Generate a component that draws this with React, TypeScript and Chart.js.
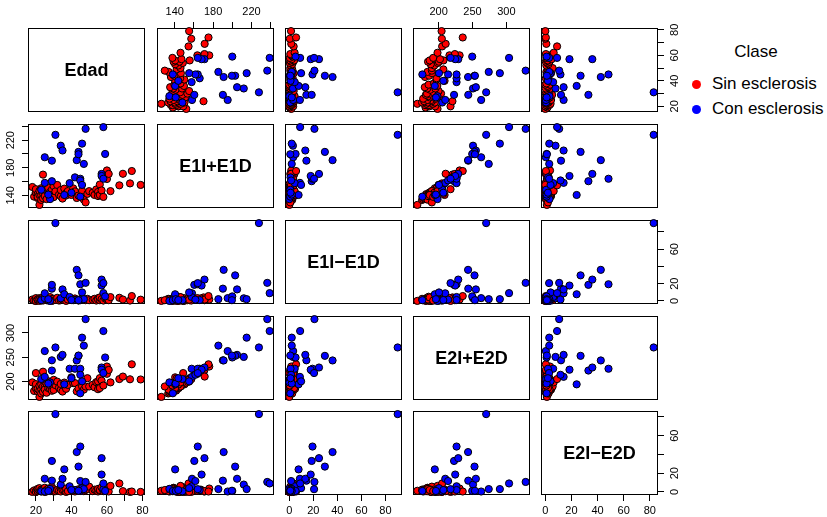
import React, { useEffect, useRef } from 'react';
import { Chart, registerables } from 'chart.js';

Chart.register(...registerables);

// ---- Data: Sin esclerosis (grupo 0) ----
const sinEdad = [18, 19, 20, 20, 20, 21, 21, 21, 22, 22, 22, 23, 23, 23, 24, 24, 24, 25, 25, 26, 26, 27, 27, 28, 28, 29, 29, 30, 30, 30, 31, 32, 33, 34, 34, 35, 36, 37, 37, 38, 40, 41, 42, 43, 44, 46, 47, 48, 49, 50, 52, 53, 54, 55, 55, 56, 56, 57, 58, 59, 60, 60, 61, 62, 67, 69, 73, 74, 79];
const sinE1Suma = [152.0, 138.0, 144.0, 143.6, 148.8, 141.6, 136.0, 137.6, 140.4, 126.0, 146.4, 140.0, 133.2, 150.2, 170.0, 135.6, 142.8, 145.2, 138.8, 147.2, 134.4, 143.2, 150.8, 139.2, 144.8, 136.8, 148.0, 141.2, 153.2, 137.2, 145.6, 155.0, 140.8, 138.4, 147.6, 135.2, 149.6, 143.0, 139.6, 146.0, 140.4, 150.0, 145.6, 136.0, 139.6, 146.4, 133.6, 129.6, 142.0, 146.0, 143.6, 140.4, 148.4, 144.8, 138.8, 155.6, 140.4, 147.0, 137.6, 167.2, 176.0, 163.6, 171.0, 146.0, 154.4, 171.2, 157.2, 175.2, 155.0];
const sinE1Dif = [1.6, 0.4, 0.0, 3.2, 0.0, 0.8, 1.6, 1.6, 3.2, 0.0, 2.0, 1.2, 2.4, 0.8, 4.0, 1.2, 0.4, 2.0, 3.6, 1.6, 0.8, 2.8, 0.4, 1.2, 4.4, 0.0, 2.0, 1.6, 0.8, 2.4, 1.2, 3.6, 0.4, 2.4, 0.8, 1.6, 3.2, 0.0, 4.8, 1.6, 2.0, 0.8, 2.8, 1.2, 0.4, 3.6, 1.6, 0.8, 2.4, 0.8, 1.2, 2.4, 0.4, 3.2, 1.6, 0.8, 4.0, 2.0, 0.4, 2.8, 1.6, 3.2, 0.8, 4.4, 3.6, 1.6, 0.4, 5.6, 1.4];
const sinE2Suma = [198.4, 180.8, 186.4, 194.8, 217.6, 181.6, 180.0, 185.6, 182.0, 168.6, 191.6, 184.0, 175.6, 194.4, 220.4, 178.8, 190.0, 189.2, 183.6, 196.0, 177.2, 186.8, 200.8, 184.8, 192.4, 181.2, 199.6, 188.0, 203.6, 182.8, 192.8, 200.0, 187.6, 183.2, 195.2, 179.6, 198.0, 188.8, 185.2, 193.2, 208.8, 196.8, 197.0, 180.0, 186.0, 190.4, 183.6, 190.0, 207.0, 190.0, 193.6, 188.4, 198.8, 200.4, 184.4, 207.2, 186.8, 202.0, 192.0, 222.0, 231.0, 216.0, 224.0, 198.4, 205.2, 210.4, 204.8, 235.6, 204.4];
const sinE2Dif = [0.0, 1.6, 0.8, 0.0, 0.0, 0.8, 0.8, 3.2, 3.2, 1.2, 4.0, 1.6, 2.4, 0.4, 0.8, 2.8, 1.2, 0.0, 4.4, 2.0, 0.4, 1.6, 3.6, 0.8, 2.0, 1.2, 5.2, 0.4, 1.6, 2.8, 0.8, 2.0, 1.2, 4.0, 0.4, 2.0, 1.6, 0.0, 3.6, 0.8, 2.4, 1.2, 0.4, 1.6, 2.8, 4.4, 0.8, 2.0, 3.2, 5.6, 0.8, 2.4, 1.6, 0.4, 3.2, 1.2, 2.0, 4.8, 0.8, 2.4, 3.6, 1.2, 0.4, 6.4, 9.0, 0.8, 0.0, 0.4, 0.0];

// ---- Data: Con esclerosis (grupo 1) ----
const conEdad = [23, 25, 25, 28, 29, 29, 31, 34, 35, 36, 39, 42, 43, 44, 45, 45, 45, 46, 46, 47, 48, 57, 57, 58, 58, 59, 27, 40, 44];
const conE1Suma = [148.0, 195.2, 158.0, 134.4, 190.2, 160.4, 227.8, 212.0, 205.0, 140.4, 157.6, 166.0, 191.0, 203.0, 164.0, 161.5, 138.0, 215.0, 155.0, 185.5, 236.5, 171.0, 168.0, 164.0, 239.0, 200.0, 141.0, 143.7, 199.6];
const conE1Dif = [0.8, 3.2, 8.8, 0.0, 14.2, 18.6, 90.2, 3.0, 13.3, 7.7, 4.5, 1.0, 36.0, 29.6, 19.3, 1.5, 0.8, 2.0, 9.8, 2.0, 20.9, 24.7, 17.8, 20.6, 9.0, 5.2, 2.0, 1.0, 0.8];
const conE2Suma = [205.4, 262.8, 209.8, 198.4, 243.8, 222.8, 270.2, 250.8, 255.0, 194.4, 226.5, 226.5, 243.5, 253.0, 226.5, 214.0, 176.0, 290.4, 200.6, 274.0, 328.5, 229.0, 224.5, 217.6, 304.0, 249.6, 196.0, 207.0, 253.6];
const conE2Dif = [0.6, 0.4, 14.0, 3.2, 12.0, 33.0, 83.0, 7.8, 14.0, 24.0, 6.0, 2.0, 42.5, 27.0, 48.4, 11.6, 1.0, 3.0, 4.0, 3.0, 10.6, 36.0, 18.5, 2.9, 9.0, 1.0, 1.0, 2.0, 1.2];

const varNames = ['Edad', 'E1I+E1D', 'E1I\u2212E1D', 'E2I+E2D', 'E2I\u2212E2D'];
const classNames = ['Sin esclerosis', 'Con esclerosis'];
const classColors = ['#FF0000', '#0000FF'];
const legendTitle = 'Clase';

// tick positions per variable
const tickValues = [
  [20, 30, 40, 50, 60, 70, 80],
  [140, 160, 180, 200, 220, 240],
  [0, 20, 40, 60, 80],
  [200, 250, 300],
  [0, 20, 40, 60, 80],
];
// labelled ticks on horizontal axes (top/bottom)
const xTickLabels = [
  [20, 40, 60, 80],
  [140, 180, 220],
  [0, 20, 40, 60, 80],
  [200, 250, 300],
  [0, 20, 40, 60, 80],
];
// labelled ticks on vertical axes (left/right)
const yTickLabels = [
  [20, 40, 60, 80],
  [140, 180, 220],
  [0, 20, 60],
  [200, 250, 300],
  [0, 20, 60],
];

const sinData = [sinEdad, sinE1Suma, sinE1Dif, sinE2Suma, sinE2Dif];
const conData = [conEdad, conE1Suma, conE1Dif, conE2Suma, conE2Dif];

function varRange(k: number): [number, number] {
  const all = [...sinData[k], ...conData[k]];
  const mn = Math.min(...all);
  const mx = Math.max(...all);
  const d = (mx - mn) * 0.04;
  return [mn - d, mx + d];
}

const FONT = '"Liberation Sans", Arimo, Arial, Helvetica, sans-serif';
const COL_LEFT = [28, 157, 285, 413, 541];
const ROW_TOP = [28, 124, 220, 316, 411];
const PW = 117;
const PH = 84;
const PAD = 34;
const PR = 3.6;

function Panel({ i, j }: { i: number; j: number }) {
  const ref = useRef<HTMLCanvasElement>(null);
  useEffect(() => {
    const canvas = ref.current;
    if (!canvas) return;
    const [xmin, xmax] = varRange(j);
    const [ymin, ymax] = varRange(i);
    const showX = (i === 0 && j % 2 === 1) || (i === 4 && j % 2 === 0);
    const xPos = i === 0 ? 'top' : 'bottom';
    const showY = (j === 0 && i % 2 === 1) || (j === 4 && i % 2 === 0);
    const yPos = j === 0 ? 'left' : 'right';
    const diag = i === j;
    const mk = (ax: number[], ay: number[]) => ax.map((v, k) => ({ x: v, y: ay[k] }));
    const ds = (g: number) => ({
      label: classNames[g],
      data: mk((g === 0 ? sinData : conData)[j], (g === 0 ? sinData : conData)[i]),
      backgroundColor: classColors[g],
      borderColor: '#000000',
      borderWidth: 1,
      pointRadius: PR,
      pointHoverRadius: PR,
      clip: false as any,
      order: g === 1 ? 1 : 2,
    });
    const datasets = diag ? [] : [ds(1), ds(0)];

    const framePlugin = {
      id: 'frame' + i + j,
      beforeDatasetsDraw(chart: any) {
        const { ctx, chartArea: a } = chart;
        ctx.save();
        ctx.strokeStyle = '#000000';
        ctx.lineWidth = 1;
        ctx.strokeRect(Math.round(a.left) + 0.5, Math.round(a.top) + 0.5, Math.round(a.right - a.left) - 1, Math.round(a.bottom - a.top) - 1);
        ctx.restore();
      },
      afterDatasetsDraw(chart: any) {
        if (!diag) return;
        const { ctx, chartArea: a } = chart;
        ctx.save();
        ctx.fillStyle = '#000000';
        ctx.font = `bold 18px ${FONT}`;
        ctx.textAlign = 'center';
        ctx.textBaseline = 'middle';
        ctx.fillText(varNames[i], (a.left + a.right) / 2, (a.top + a.bottom) / 2 + 1);
        ctx.restore();
      },
    };

    const tickFont = { family: FONT, size: 11 };
    const gridOpts = { display: true, drawOnChartArea: false, drawTicks: true, tickLength: 6, tickColor: '#000000', tickWidth: 1, color: '#000000' };

    const chart = new Chart(canvas, {
      type: 'scatter',
      data: { datasets: datasets as any },
      options: {
        animation: false,
        responsive: false,
        maintainAspectRatio: false,
        devicePixelRatio: 1,
        events: [],
        layout: {
          padding: {
            left: showY && yPos === 'left' ? 0 : PAD,
            right: showY && yPos === 'right' ? 0 : PAD,
            top: showX && xPos === 'top' ? 0 : PAD,
            bottom: showX && xPos === 'bottom' ? 0 : PAD,
          },
        },
        plugins: { legend: { display: false }, tooltip: { enabled: false }, title: { display: false } },
        scales: {
          x: {
            type: 'linear',
            position: xPos as any,
            display: showX,
            min: xmin,
            max: xmax,
            afterBuildTicks: (s: any) => { s.ticks = tickValues[j].map((v) => ({ value: v })); },
            ...(showX ? { afterFit: (s: any) => { s.height = PAD; } } : {}),
            grid: gridOpts,
            border: { display: false },
            ticks: {
              autoSkip: false,
              minRotation: 0,
              maxRotation: 0,
              padding: 3,
              color: '#000000',
              font: tickFont,
              callback: (v: any) => (xTickLabels[j].includes(Number(v)) ? String(v) : ''),
            },
          },
          y: {
            type: 'linear',
            position: yPos as any,
            display: showY,
            min: ymin,
            max: ymax,
            afterBuildTicks: (s: any) => { s.ticks = tickValues[i].map((v) => ({ value: v })); },
            ...(showY ? { afterFit: (s: any) => { s.width = PAD; } } : {}),
            grid: gridOpts,
            border: { display: false },
            ticks: {
              autoSkip: false,
              minRotation: 90,
              maxRotation: 90,
              crossAlign: 'center',
              padding: yPos === 'left' ? 2 : 5,
              color: '#000000',
              font: tickFont,
              callback: (v: any) => (yTickLabels[i].includes(Number(v)) ? String(v) : ''),
            },
          },
        },
      } as any,
      plugins: [framePlugin],
    });
    return () => chart.destroy();
  }, [i, j]);
  const W = PW + 2 * PAD;
  const H = PH + 2 * PAD;
  return (
    <canvas
      ref={ref}
      width={W}
      height={H}
      style={{ position: 'absolute', left: COL_LEFT[j] - PAD, top: ROW_TOP[i] - PAD, width: W, height: H }}
    />
  );
}

export default function App() {
  const panels: JSX.Element[] = [];
  for (let i = 0; i < 5; i++) for (let j = 0; j < 5; j++) panels.push(<Panel key={`${i}-${j}`} i={i} j={j} />);
  return (
    <div style={{ position: 'fixed', left: 0, top: 0, width: 827, height: 517, background: '#ffffff', overflow: 'hidden', fontFamily: FONT }}>
      {panels}
      <div style={{ position: 'absolute', left: 696, top: 42, width: 120, textAlign: 'center', fontSize: 17, lineHeight: '20px', color: '#000' }}>{legendTitle}</div>
      {classNames.map((name, g) => (
        <React.Fragment key={name}>
          <div style={{ position: 'absolute', left: 692, top: 80 + g * 25, width: 9, height: 9, borderRadius: '50%', background: classColors[g] }} />
          <div style={{ position: 'absolute', left: 712, top: 74 + g * 25, fontSize: 17, lineHeight: '20px', color: '#000', whiteSpace: 'nowrap' }}>{name}</div>
        </React.Fragment>
      ))}
    </div>
  );
}
